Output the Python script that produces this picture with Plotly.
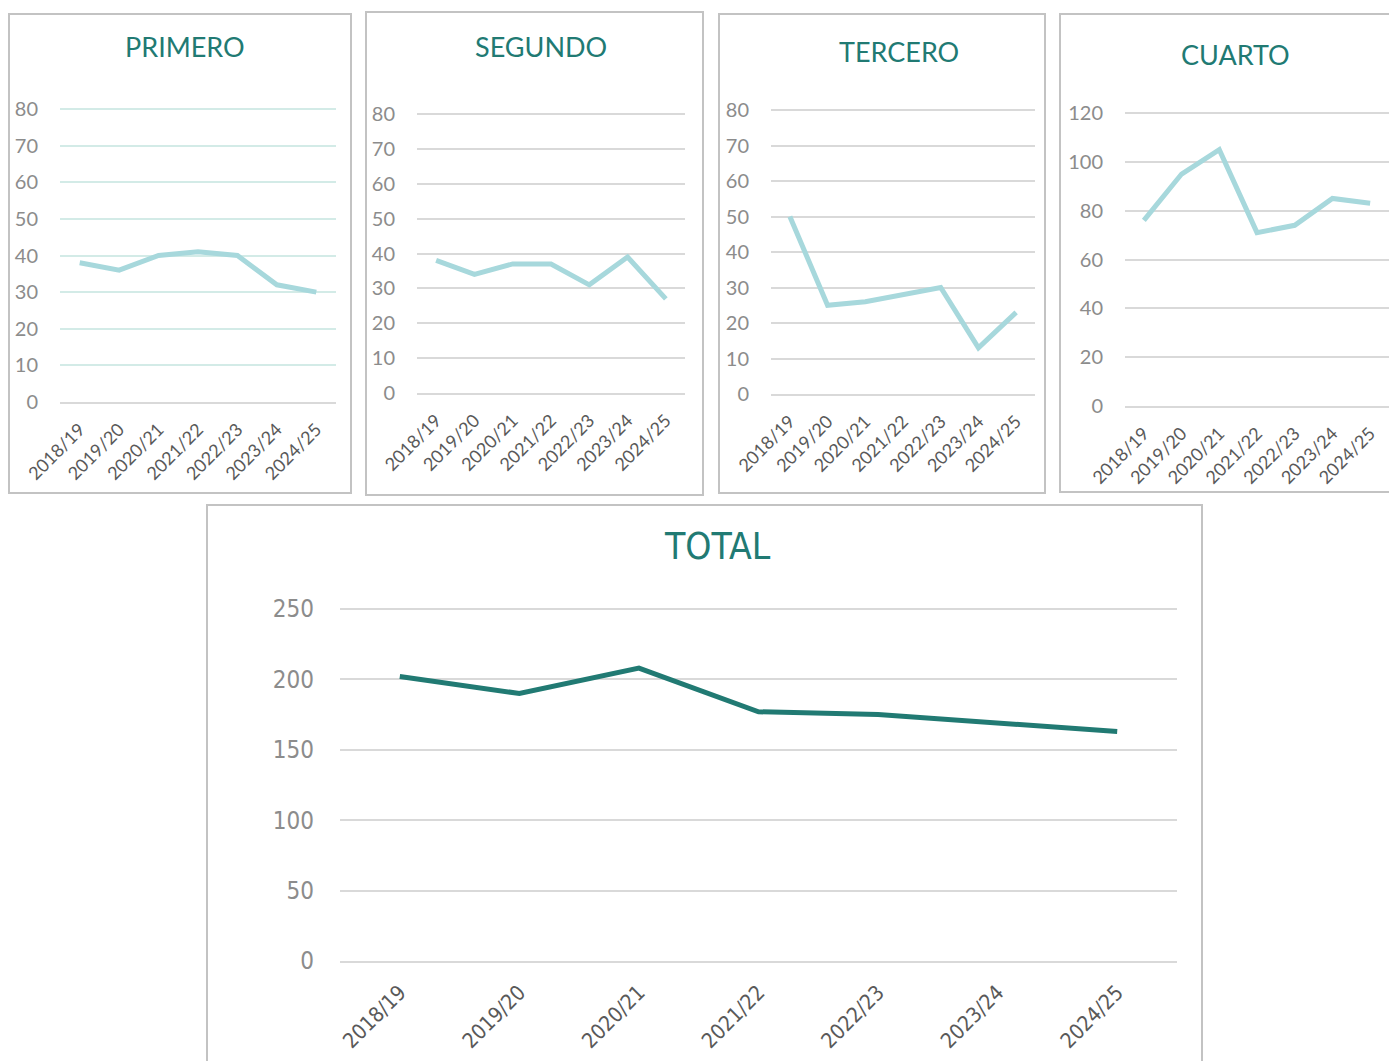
import plotly.graph_objects as go

W, H = 1389, 1061

categories = ["2018/19", "2019/20", "2020/21", "2021/22", "2022/23", "2023/24", "2024/25"]
primero = [38, 36, 40, 41, 40, 32, 30]
segundo = [38, 34, 37, 37, 31, 39, 27]
tercero = [50, 25, 26, 28, 30, 13, 23]
cuarto = [76, 95, 105, 71, 74, 85, 83]
total = [202, 190, 208, 177, 175, 169, 163]

TEAL = "#217a73"
LIGHT = "#a7d8dc"
GRID = "#d9d9d9"
FONT = "Lato"
NARROW = "DejaVu Sans Condensed, Lato"

def px_x(v):
    return v / W

def px_y(v):
    return 1 - v / H

panels = [
    dict(name="PRIMERO", data=primero, x=(60, 336), y=(109, 402), ymax=80, dtick=10,
         box=(9, 14, 351, 493), tpos=(185, 47), color=LIGHT, grid="#d3ebe7", font=FONT,
         tsize=27, ysize=20, xsize=18, lw=5, ystand=21, xstand=8),
    dict(name="SEGUNDO", data=segundo, x=(417, 685), y=(114, 393), ymax=80, dtick=10,
         box=(366, 12, 703, 495), tpos=(541, 47), color=LIGHT, grid=GRID, font=FONT,
         tsize=27, ysize=20, xsize=18, lw=5, ystand=21, xstand=8),
    dict(name="TERCERO", data=tercero, x=(771, 1035), y=(110, 394), ymax=80, dtick=10,
         box=(719, 14, 1045, 493), tpos=(899, 52), color=LIGHT, grid=GRID, font=FONT,
         tsize=27, ysize=20, xsize=18, lw=5, ystand=21, xstand=8),
    dict(name="CUARTO", data=cuarto, x=(1125, 1389), y=(113, 406), ymax=120, dtick=20,
         box=(1060, 14, 1400, 492), tpos=(1235, 54), color=LIGHT, grid=GRID, font=FONT,
         tsize=27, ysize=20, xsize=18, lw=5, ystand=21, xstand=8),
    dict(name="TOTAL", data=total, x=(340, 1177), y=(609, 961), ymax=250, dtick=50,
         box=(207, 505, 1202, 1080), tpos=(717, 546), color=TEAL, grid=GRID, font=NARROW,
         tsize=37, ysize=24, xsize=21, lw=5, ystand=25, xstand=9),
]

PAD = 3  # px of extra plot area above the top gridline so it is drawn

fig = go.Figure()
shapes = []
annotations = []
layout = {}
for i, p in enumerate(panels, start=1):
    xa = "x" if i == 1 else f"x{i}"
    ya = "y" if i == 1 else f"y{i}"
    fig.add_trace(go.Scatter(
        x=categories, y=p["data"], mode="lines",
        line=dict(color=p["color"], width=p["lw"]),
        xaxis=xa, yaxis=ya, showlegend=False, hoverinfo="x+y",
    ))
    ytop, ybot = p["y"]
    h = ybot - ytop
    rmax = p["ymax"] * (1 + PAD / h)
    xkey = "xaxis" if i == 1 else f"xaxis{i}"
    ykey = "yaxis" if i == 1 else f"yaxis{i}"
    layout[xkey] = dict(
        domain=[max(0, px_x(p["x"][0])), min(1, px_x(p["x"][1]))], anchor=ya,
        type="category", range=[-0.5, 6.5], showgrid=False, zeroline=False,
        showline=True, linecolor=GRID, linewidth=2, ticks="",
        tickangle=-45, ticklabelstandoff=p["xstand"],
        tickfont=dict(family=p["font"], size=p["xsize"], color="#595959"),
        fixedrange=True, automargin=False,
    )
    layout[ykey] = dict(
        domain=[max(0, px_y(ybot)), min(1, px_y(ytop - PAD))], anchor=xa,
        range=[0, rmax], tickvals=list(range(0, p["ymax"] + 1, p["dtick"])),
        showgrid=True, gridcolor=p["grid"], gridwidth=2, zeroline=False,
        showline=False, ticks="", ticklabelstandoff=p["ystand"],
        tickfont=dict(family=p["font"], size=p["ysize"], color="#8c8c8c"),
        fixedrange=True, automargin=False,
    )
    bx0, by0, bx1, by1 = p["box"]
    shapes.append(dict(type="rect", xref="paper", yref="paper",
                       x0=px_x(bx0), x1=px_x(bx1), y0=px_y(by1), y1=px_y(by0),
                       line=dict(color="#c3c3c3", width=2), fillcolor="rgba(0,0,0,0)",
                       layer="below"))
    annotations.append(dict(text=p["name"], xref="paper", yref="paper",
                            x=px_x(p["tpos"][0]), y=px_y(p["tpos"][1]),
                            xanchor="center", yanchor="middle", showarrow=False,
                            font=dict(family=p["font"], size=p["tsize"], color=TEAL)))

fig.update_layout(
    width=W, height=H, margin=dict(l=0, r=0, t=0, b=0, autoexpand=False),
    paper_bgcolor="white", plot_bgcolor="rgba(0,0,0,0)",
    shapes=shapes, annotations=annotations, **layout,
)

fig.write_html(
    "out.html",
    config={"displayModeBar": False},
    post_script="document.body.style.margin='0';"
                "document.documentElement.style.overflow='hidden';"
                "document.body.style.overflow='hidden';",
)
